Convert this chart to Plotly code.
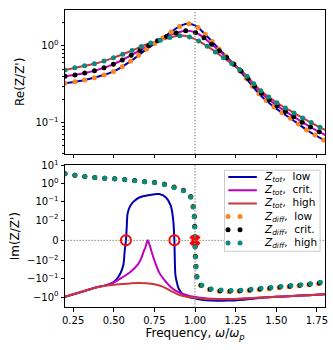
import numpy as np
import plotly.graph_objects as go
from plotly.subplots import make_subplots

## ---------------- data ----------------
## real part (Re of Z_tot and Z_diff coincide)
x_re = [0.2, 0.3, 0.4, 0.5, 0.6, 0.7, 0.8, 0.9, 0.95, 1.0, 1.05, 1.1, 1.15, 1.2,
        1.25, 1.3, 1.4, 1.5, 1.6, 1.7, 1.8]
re_low = [0.327, 0.352, 0.396, 0.465, 0.625, 0.902, 1.265, 1.775, 1.95, 1.86, 1.51,
          1.176, 0.902, 0.703, 0.547, 0.414, 0.230, 0.152, 0.109, 0.077, 0.058]
re_crit = [0.402, 0.433, 0.487, 0.580, 0.745, 0.971, 1.265, 1.51, 1.577, 1.51, 1.303,
           1.061, 0.863, 0.692, 0.547, 0.433, 0.251, 0.169, 0.122, 0.090, 0.069]
re_high = [0.487, 0.539, 0.598, 0.703, 0.851, 1.045, 1.21, 1.362, 1.342, 1.229, 1.076,
           0.916, 0.767, 0.643, 0.539, 0.445, 0.266, 0.184, 0.137, 0.104, 0.080]

## imaginary part, Z_tot
x_tot_low = [0.2, 0.3, 0.4, 0.45, 0.5, 0.53, 0.55, 0.56, 0.567, 0.575, 0.58, 0.585,
             0.595, 0.62, 0.66, 0.72, 0.78, 0.82, 0.85, 0.865, 0.873, 0.876, 0.88,
             0.89, 0.9, 0.93, 0.96, 1.0, 1.05, 1.1, 1.2, 1.3, 1.4, 1.5, 1.6, 1.7, 1.8]
im_tot_low = [-0.98, -0.53, -0.28, -0.23, -0.15, -0.075, -0.032, -0.016, -0.0055, 0.0,
              0.0068, 0.022, 0.046, 0.10, 0.18, 0.24, 0.27, 0.18, 0.064, 0.012, 0.0,
              -0.0104, -0.067, -0.18, -0.35, -0.79, -0.99, -1.19, -1.45, -1.55, -1.58,
              -1.40, -1.15, -0.98, -0.88, -0.79, -0.70]

x_tot_crit = [0.2, 0.3, 0.4, 0.45, 0.5, 0.55, 0.6, 0.65, 0.67, 0.685, 0.695, 0.703,
              0.709, 0.715, 0.723, 0.733, 0.745, 0.76, 0.78, 0.8, 0.85, 0.9, 0.95,
              1.0, 1.05, 1.1, 1.2, 1.3, 1.4, 1.5, 1.6, 1.7, 1.8]
im_tot_crit = [-0.98, -0.53, -0.28, -0.23, -0.16, -0.086, -0.044, -0.0155, -0.0087,
               -0.0053, -0.0034, -0.0012, 0.0, -0.001, -0.0029, -0.0056, -0.0087,
               -0.017, -0.046, -0.085, -0.28, -0.55, -0.79, -1.0, -1.15, -1.25, -1.3,
               -1.22, -1.1, -0.98, -0.88, -0.79, -0.70]

x_tot_high = [0.2, 0.3, 0.4, 0.5, 0.55, 0.6, 0.65, 0.7, 0.75, 0.8, 0.85, 0.9, 0.95,
              1.0, 1.05, 1.1, 1.2, 1.3, 1.4, 1.5, 1.6, 1.7, 1.8]
im_tot_high = [-0.98, -0.52, -0.29, -0.216, -0.196, -0.18, -0.17, -0.175, -0.20,
               -0.27, -0.455, -0.746, -0.96, -1.11, -1.25, -1.33, -1.33, -1.2, -1.08,
               -0.98, -0.88, -0.79, -0.70]

## imaginary part, Z_diff
x_diff = [0.2, 0.25, 0.3, 0.35, 0.4, 0.45, 0.5, 0.55, 0.6, 0.65, 0.7, 0.75, 0.8,
          0.85, 0.9, 0.93, 0.95, 0.97, 0.985, 0.993, 0.997, 1.0, 1.003, 1.007, 1.012,
          1.02, 1.03, 1.05, 1.07, 1.1, 1.15, 1.2, 1.25, 1.3, 1.4, 1.5, 1.6, 1.7, 1.8]
im_diff_low = [3.5, 3.0, 2.6, 2.36, 2.14, 2.0, 1.88, 1.76, 1.61, 1.45, 1.31, 1.2, 1.03,
               0.78, 0.56, 0.45, 0.34, 0.23, 0.085, 0.03, 0.011, 0.0, -0.011, -0.033,
               -0.09, -0.15, -0.21, -0.28, -0.33, -0.42, -0.49, -0.52, -0.50, -0.47,
               -0.39, -0.32, -0.26, -0.21, -0.17]
im_diff_crit = [3.5, 3.0, 2.6, 2.35, 2.13, 1.98, 1.86, 1.74, 1.58, 1.41, 1.27, 1.16,
                0.99, 0.74, 0.53, 0.42, 0.32, 0.22, 0.082, 0.029, 0.0105, 0.0, -0.0105,
                -0.031, -0.085, -0.14, -0.20, -0.26, -0.30, -0.39, -0.45, -0.47, -0.46,
                -0.44, -0.36, -0.30, -0.245, -0.20, -0.157]
im_diff_high = [3.5, 3.0, 2.6, 2.35, 2.12, 1.97, 1.85, 1.72, 1.56, 1.38, 1.24, 1.12,
                0.95, 0.70, 0.50, 0.40, 0.30, 0.21, 0.08, 0.028, 0.01, 0.0, -0.01,
                -0.03, -0.08, -0.13, -0.187, -0.24, -0.28, -0.36, -0.41, -0.43, -0.43,
                -0.41, -0.34, -0.28, -0.23, -0.19, -0.145]

## zero crossings
x_cross_tot = [0.575, 0.873]
x_cross_diff = [1.0]

cases = ["low", "crit.", "high"]
tot_colors = ["#0000b0", "#c000c0", "#c8373a"]
diff_colors = ["#ff8419", "#000000", "#0a8b7e"]

xticks = [0.25, 0.5, 0.75, 1.0, 1.25, 1.5, 1.75]


## symlog transform like matplotlib (linthresh=1e-2, linscale=1)
def symlog(vals, linthresh=0.01, linscale=1.0):
    v = np.asarray(vals, dtype=float)
    c = linscale / (1 - 1 / 10)
    a = np.abs(v)
    return np.where(a <= linthresh, v / linthresh * c,
                    np.sign(v) * (c + np.log10(np.maximum(a, linthresh) / linthresh)))


fig = make_subplots(rows=2, cols=1, shared_xaxes=True)

re_sets = [re_low, re_crit, re_high]
tot_sets = [(x_tot_low, im_tot_low), (x_tot_crit, im_tot_crit), (x_tot_high, im_tot_high)]
diff_sets = [im_diff_low, im_diff_crit, im_diff_high]

dotted = "0px,10px"

## top panel: real part
for re, col in zip(re_sets, tot_colors):
    fig.add_trace(go.Scatter(x=x_re, y=re, mode="lines", showlegend=False,
                             line=dict(color=col, width=2, shape="spline")), row=1, col=1)
for re, col in zip(re_sets, diff_colors):
    fig.add_trace(go.Scatter(x=x_re, y=re, mode="lines", showlegend=False,
                             line=dict(color=col, width=5, dash=dotted, shape="spline")),
                  row=1, col=1)

## bottom panel: imaginary part
for (xx, yy), col in zip(tot_sets, tot_colors):
    fig.add_trace(go.Scatter(x=xx, y=symlog(yy), mode="lines", showlegend=False,
                             line=dict(color=col, width=2, shape="spline")), row=2, col=1)
for yy, col in zip(diff_sets, diff_colors):
    fig.add_trace(go.Scatter(x=x_diff, y=symlog(yy), mode="lines", showlegend=False,
                             line=dict(color=col, width=5, dash=dotted, shape="spline")),
                  row=2, col=1)

fig.add_trace(go.Scatter(x=x_cross_tot, y=symlog([0] * len(x_cross_tot)), mode="markers",
                         showlegend=False,
                         marker=dict(symbol="circle-open", size=10, color="red",
                                     line=dict(width=2, color="red"))), row=2, col=1)
fig.add_trace(go.Scatter(x=x_cross_diff, y=symlog([0] * len(x_cross_diff)), mode="markers",
                         showlegend=False,
                         marker=dict(symbol="x", size=10, color="red",
                                     line=dict(width=0))), row=2, col=1)

## reference lines
ref = dict(color="#808080", width=1.2, dash="0.3px,2.7px")
fig.add_vline(x=1.0, line=ref, row=1, col=1)
fig.add_vline(x=1.0, line=ref, row=2, col=1)
fig.add_hline(y=0, line=ref, row=2, col=1)

## legend drawn by hand (plotly's legend rows are too tall for this size)
## positions in paper fractions of the plot area
leg_x0, leg_x1, leg_y0, leg_y1 = 0.615, 0.981, 0.1875, 0.4605
row_y = [0.4375, 0.3931, 0.3487, 0.3043, 0.2599, 0.2155]
fig.add_shape(type="rect", xref="paper", yref="paper",
              x0=leg_x0, x1=leg_x1, y0=leg_y0, y1=leg_y1,
              line=dict(color="#cccccc", width=1), fillcolor="rgba(255,255,255,0.85)")
labels = ([f"<i>Z</i><sub><i>tot</i></sub>,  {c}" for c in cases] +
          [f"<i>Z</i><sub><i>diff</i></sub>,  {c}" for c in cases])
for i, (lab, col) in enumerate(zip(labels, tot_colors + diff_colors)):
    if i < 3:
        fig.add_shape(type="line", xref="paper", yref="paper", x0=0.631, x1=0.735,
                      y0=row_y[i], y1=row_y[i], line=dict(color=col, width=2))
    else:
        fig.add_shape(type="line", xref="paper", yref="paper", x0=0.627, x1=0.7192,
                      y0=row_y[i], y1=row_y[i],
                      line=dict(color=col, width=5, dash="0px,12px"))
    fig.add_annotation(text=lab, xref="paper", yref="paper", x=0.757, y=row_y[i],
                       xanchor="left", yanchor="middle", showarrow=False,
                       font=dict(size=10.5))

## axes
axis_common = dict(showline=True, linecolor="black", linewidth=1, mirror=True,
                   ticks="outside", ticklen=3.5, tickwidth=0.8, tickcolor="black",
                   showgrid=False, zeroline=False)
fig.update_xaxes(range=[0.2, 1.8], tickvals=xticks, tickformat=".2f", **axis_common)
fig.update_xaxes(showticklabels=False, row=1, col=1)
fig.update_xaxes(title=dict(text="Frequency, <i>ω</i>/<i>ω</i><sub><i>p</i></sub>",
                            standoff=4), row=2, col=1)

minor_vals = [0.04, 0.05, 0.06, 0.07, 0.08, 0.09, 0.2, 0.3, 0.4, 0.5, 0.6, 0.7, 0.8,
              0.9, 2.0]
fig.update_yaxes(type="log", range=[np.log10(0.0393), np.log10(2.95)],
                 tickvals=[0.1, 1.0], ticktext=["10<sup>−1</sup>", "10<sup>0</sup>"],
                 minor=dict(tickvals=minor_vals, ticks="outside", ticklen=2,
                            tickwidth=0.6, tickcolor="black"),
                 title=dict(text="Re(Z/Z')", standoff=8),
                 domain=[0.5164, 1.0], row=1, col=1, **axis_common)

im_tick_vals = [10, 1, 0.1, 0.01, 0, -0.01, -0.1, -1]
im_tick_text = ["10<sup>1</sup>", "10<sup>0</sup>", "10<sup>−1</sup>", "10<sup>−2</sup>",
                "0", "−10<sup>−2</sup>", "−10<sup>−1</sup>", "−10<sup>0</sup>"]
fig.update_yaxes(range=[-3.66, 4.12], tickvals=list(symlog(im_tick_vals)),
                 ticktext=im_tick_text, title=dict(text="Im(Z/Z')", standoff=4),
                 domain=[0.0, 0.477], row=2, col=1, **axis_common)

fig.update_layout(
    width=333, height=350,
    margin=dict(l=65, r=8, t=3, b=43),
    paper_bgcolor="white", plot_bgcolor="white",
    font=dict(family="DejaVu Sans", size=10, color="black"),
    showlegend=False,
)

## no page margin, and round line caps so the dotted curves are drawn as round dots
post = ("var s=document.createElement('style');"
        "s.textContent='body{margin:0;} .js-line, .shapelayer path{stroke-linecap:round;}';"
        "document.head.appendChild(s);")

fig.write_html("out.html", post_script=post, config={"displayModeBar": False})
